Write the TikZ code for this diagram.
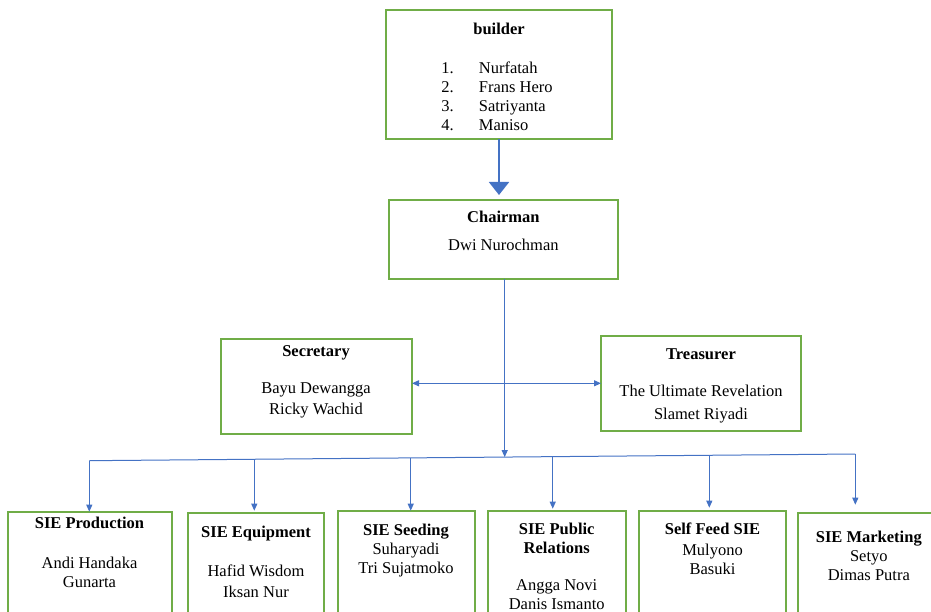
\documentclass[tikz,border=0pt]{standalone}
\usepackage{fontspec}
\setmainfont{Liberation Serif}
\usetikzlibrary{positioning, arrows.meta, calc}
\definecolor{verde}{HTML}{70AD47}
\definecolor{blu}{HTML}{4472C4}
\tikzset{
	blocco/.style={draw=verde, line width=2pt, rectangle, inner sep=0pt, outer sep=0pt, anchor=north west},
	testo/.style={anchor=north, inner sep=0pt, align=center, font=\fontsize{16.5}{19}\selectfont},
	freccia/.style={->, blu, line width=1pt}
}

\begin{document}
\begin{tikzpicture}[x=1pt, y=-1pt, >={Triangle[width=6pt,length=7pt]}]
		\useasboundingbox (0,0) rectangle (931,612);
		
		%Rappresento i blocchi
		\node(Builder) at (385.7,10) [blocco, minimum width=226.6pt, minimum height=129.3pt]{};
		\node(Chairman) at (389,200) [blocco, minimum width=228.7pt, minimum height=79.3pt]{};
		\node(Secretary) at (221,339.3) [blocco, minimum width=191pt, minimum height=94.7pt]{};
		\node(Treasurer) at (601,336) [blocco, minimum width=200pt, minimum height=94.7pt]{};
		\node(SieProduction) at (8.3,511.7) [blocco, minimum width=164pt, minimum height=130pt]{};
		\node(SieEquipment) at (187.7,512.7) [blocco, minimum width=136.6pt, minimum height=130pt]{};
		\node(SieSeeding) at (337.7,510.7) [blocco, minimum width=137.3pt, minimum height=130pt]{};
		\node(SiePublic) at (487.7,510.7) [blocco, minimum width=138pt, minimum height=130pt]{};
		\node(SelfFeed) at (639,510.7) [blocco, minimum width=147pt, minimum height=130pt]{};
		\node(SieMarketing) at (798.3,512.7) [blocco, minimum width=150pt, minimum height=130pt]{};
		
		%Inserisco i testi
		\node(BuilderText) at (499,23.1) [testo]{\textbf{builder}\\[19.4pt]\begin{tabular}[t]{@{}p{25.6pt}l@{\hspace{4pt}}}1. & Nurfatah\\2. & Frans Hero\\3. & Satriyanta\\4. & Maniso\end{tabular}};
		\node(ChairmanText) at (503.4,211.3) [testo]{\textbf{Chairman}\\[8.7pt]Dwi Nurochman};
		\node(SecretaryText) at (316,345.5) [testo]{\textbf{Secretary}\\[18pt]Bayu Dewangga\\[2pt]Ricky Wachid};
		\node(TreasurerText) at (701,348.8) [testo]{\textbf{Treasurer}\\[17.7pt]The Ultimate Revelation\\[4pt]Slamet Riyadi};
		\node(SieProductionText) at (89.5,517.1) [testo]{\textbf{SIE Production}\\[21pt]Andi Handaka\\Gunarta};
		\node(SieEquipmentText) at (256,525.5) [testo]{\textbf{SIE Equipment}\\[20pt]Hafid Wisdom\\[2pt]Iksan Nur};
		\node(SieSeedingText) at (406,523.8) [testo]{\textbf{SIE Seeding}\\Suharyadi\\Tri Sujatmoko};
		\node(SiePublicText) at (556.7,523.1) [testo]{\textbf{SIE Public}\\\textbf{Relations}\\[18pt]Angga Novi\\Danis Ismanto};
		\node(SelfFeedText) at (712.5,523.1) [testo]{\textbf{Self Feed SIE}\\[1.7pt]Mulyono\\Basuki};
		\node(SieMarketingText) at (868.8,531.1) [testo]{\textbf{SIE Marketing}\\Setyo\\Dimas Putra};
		
		%Punti di snodo
		\coordinate (Incrocio) at (504.7,383.3);
		\coordinate (BusC) at (504.7,457.1);
		\coordinate (BusL) at (89.3,460.7);
		\coordinate (BusR) at (855.3,454);
		\coordinate (Bus2) at ($(BusL)!0.2154!(BusR)$);
		\coordinate (Bus3) at ($(BusL)!0.4196!(BusR)$);
		\coordinate (Bus4) at ($(BusL)!0.6050!(BusR)$);
		\coordinate (Bus5) at ($(BusL)!0.8094!(BusR)$);
		
		%Rappresento i collegamenti
		\draw[-{Triangle[width=20pt,length=13pt]}, blu, line width=2pt, shorten >=5pt] (Builder.south) -- (Builder.south |- Chairman.north);
		\draw[freccia] (Chairman.south -| BusC) -- (BusC);
		\draw[freccia, <->] (Secretary.east |- Incrocio) -- (Treasurer.west |- Incrocio);
		\draw[blu, line width=1pt] (BusL) -- (BusR);
		\draw[freccia] (BusL) -- (BusL |- SieProduction.north);
		\draw[freccia, shorten >=2pt] (Bus2) -- (Bus2 |- SieEquipment.north);
		\draw[freccia] (Bus3) -- (Bus3 |- SieSeeding.north);
		\draw[freccia, shorten >=2pt] (Bus4) -- (Bus4 |- SiePublic.north);
		\draw[freccia, shorten >=3pt] (Bus5) -- (Bus5 |- SelfFeed.north);
		\draw[freccia, shorten >=8pt] (BusR) -- (BusR |- SieMarketing.north);
		
\end{tikzpicture}
\end{document}
